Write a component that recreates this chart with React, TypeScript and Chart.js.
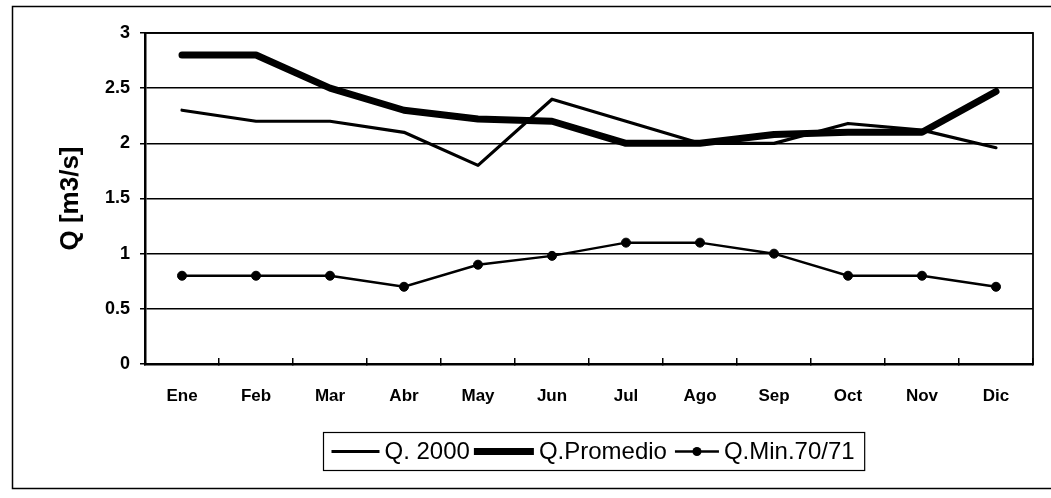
import React, { useEffect, useRef } from 'react';
import { Chart, registerables } from 'chart.js';

Chart.register(...registerables);

const months = ['Ene', 'Feb', 'Mar', 'Abr', 'May', 'Jun', 'Jul', 'Ago', 'Sep', 'Oct', 'Nov', 'Dic'];
const q2000 = [2.3, 2.2, 2.2, 2.1, 1.8, 2.4, 2.2, 2.0, 2.0, 2.18, 2.12, 1.96];
const qPromedio = [2.8, 2.8, 2.5, 2.3, 2.22, 2.2, 2.0, 2.0, 2.08, 2.1, 2.1, 2.47];
const qMin = [0.8, 0.8, 0.8, 0.7, 0.9, 0.98, 1.1, 1.1, 1.0, 0.8, 0.8, 0.7];
const seriesNames = ['Q. 2000', 'Q.Promedio', 'Q.Min.70/71'];
const yTitle = 'Q [m3/s]';

const FONT = '"Liberation Sans", Arial, Helvetica, sans-serif';

const framePlugin = {
  id: 'frameAndLegend',
  beforeDatasetsDraw(chart: any) {
    const { ctx, chartArea: a } = chart;
    ctx.save();
    ctx.strokeStyle = '#000';
    ctx.lineWidth = 1.8;
    ctx.strokeRect(a.left, a.top, a.right - a.left, a.bottom - a.top);
    ctx.restore();
  },
  afterDraw(chart: any) {
    const { ctx, chartArea: a } = chart;
    ctx.save();
    // outer frame
    ctx.strokeStyle = '#000';
    ctx.lineWidth = 1.5;
    ctx.strokeRect(12.5, 6.5, 1060, 482);

    // legend
    ctx.font = `24px ${FONT}`;
    ctx.textBaseline = 'middle';
    ctx.textAlign = 'left';
    const samples = [48, 60, 44];
    const widths = seriesNames.map((s) => ctx.measureText(s).width);
    const padL = 8, padR = 10, gapS = 5, gapT = [4, 8];
    let total = padL + padR;
    for (let i = 0; i < 3; i++) {
      total += samples[i] + gapS + widths[i];
      if (i < 2) total += gapT[i];
    }
    const cx = (a.left + a.right) / 2 + 5;
    const boxL = Math.round(cx - total / 2) + 0.5;
    const boxT = 432.5;
    const boxH = 38;
    const cy = boxT + boxH / 2;
    ctx.fillStyle = '#fff';
    ctx.fillRect(boxL, boxT, total, boxH);
    ctx.lineWidth = 1.2;
    ctx.strokeRect(boxL, boxT, total, boxH);
    let x = boxL + padL;
    const ds = chart.data.datasets;
    for (let i = 0; i < 3; i++) {
      const d = ds[i];
      ctx.strokeStyle = '#000';
      ctx.lineWidth = d.borderWidth;
      ctx.lineCap = 'butt';
      ctx.beginPath();
      ctx.moveTo(x, cy);
      ctx.lineTo(x + samples[i], cy);
      ctx.stroke();
      if (d.pointRadius > 0) {
        ctx.fillStyle = '#000';
        ctx.beginPath();
        ctx.arc(x + samples[i] / 2, cy, d.pointRadius, 0, Math.PI * 2);
        ctx.fill();
      }
      x += samples[i] + gapS;
      ctx.fillStyle = '#000';
      ctx.fillText(seriesNames[i], x, cy + 1);
      x += widths[i];
      if (i < 2) x += gapT[i];
    }
    ctx.restore();
  },
};

export default function App() {
  const ref = useRef<HTMLCanvasElement | null>(null);

  useEffect(() => {
    if (!ref.current) return;
    const chart = new Chart(ref.current, {
      type: 'line',
      data: {
        labels: months,
        datasets: [
          {
            label: seriesNames[0],
            data: q2000,
            borderColor: '#000',
            backgroundColor: '#000',
            borderWidth: 3.2,
            pointRadius: 0,
            tension: 0,
            borderJoinStyle: 'round',
            borderCapStyle: 'round',
          },
          {
            label: seriesNames[1],
            data: qPromedio,
            borderColor: '#000',
            backgroundColor: '#000',
            borderWidth: 7,
            pointRadius: 0,
            tension: 0,
            borderJoinStyle: 'round',
            borderCapStyle: 'round',
          },
          {
            label: seriesNames[2],
            data: qMin,
            borderColor: '#000',
            backgroundColor: '#000',
            borderWidth: 2.5,
            pointRadius: 4.5,
            pointBackgroundColor: '#000',
            pointBorderColor: '#000',
            pointBorderWidth: 1,
            pointStyle: 'circle',
            tension: 0,
          },
        ],
      },
      options: {
        animation: false,
        responsive: true,
        maintainAspectRatio: false,
        events: [],
        layout: { padding: { left: 0, top: 33, right: 18, bottom: 84 } },
        plugins: {
          legend: { display: false },
          tooltip: { enabled: false },
          title: { display: false },
        },
        scales: {
          x: {
            type: 'category',
            offset: true,
            grid: {
              display: true,
              offset: true,
              drawOnChartArea: false,
              drawTicks: true,
              tickLength: -6,
              color: '#000',
              lineWidth: 1.5,
            },
            border: { display: true, color: '#000', width: 2.5 },
            ticks: {
              color: '#000',
              padding: 28,
              maxRotation: 0,
              autoSkip: false,
              font: { family: FONT, size: 17, weight: 'bold' },
            },
            afterFit(scale: any) {
              scale.height = 50;
            },
          },
          y: {
            min: 0,
            max: 3,
            ticks: {
              stepSize: 0.5,
              color: '#000',
              padding: 10,
              font: { family: FONT, size: 18, weight: 'bold' },
              callback: (value: any) => String(Number(value)),
            },
            grid: {
              color: '#000',
              lineWidth: 1.5,
              drawTicks: true,
              tickLength: 5,
            },
            border: { display: true, color: '#000', width: 2.5 },
            title: {
              display: true,
              text: yTitle,
              color: '#000',
              font: { family: FONT, size: 26, weight: 'bold' },
              padding: { top: 55, bottom: 0 },
            },
            afterFit(scale: any) {
              scale.width = 145;
            },
          },
        },
      },
      plugins: [framePlugin],
    });
    return () => chart.destroy();
  }, []);

  return (
    <div style={{ position: 'absolute', left: 0, top: 0, width: 1051, height: 498, background: '#fff' }}>
      <canvas ref={ref} style={{ display: 'block' }} />
    </div>
  );
}
